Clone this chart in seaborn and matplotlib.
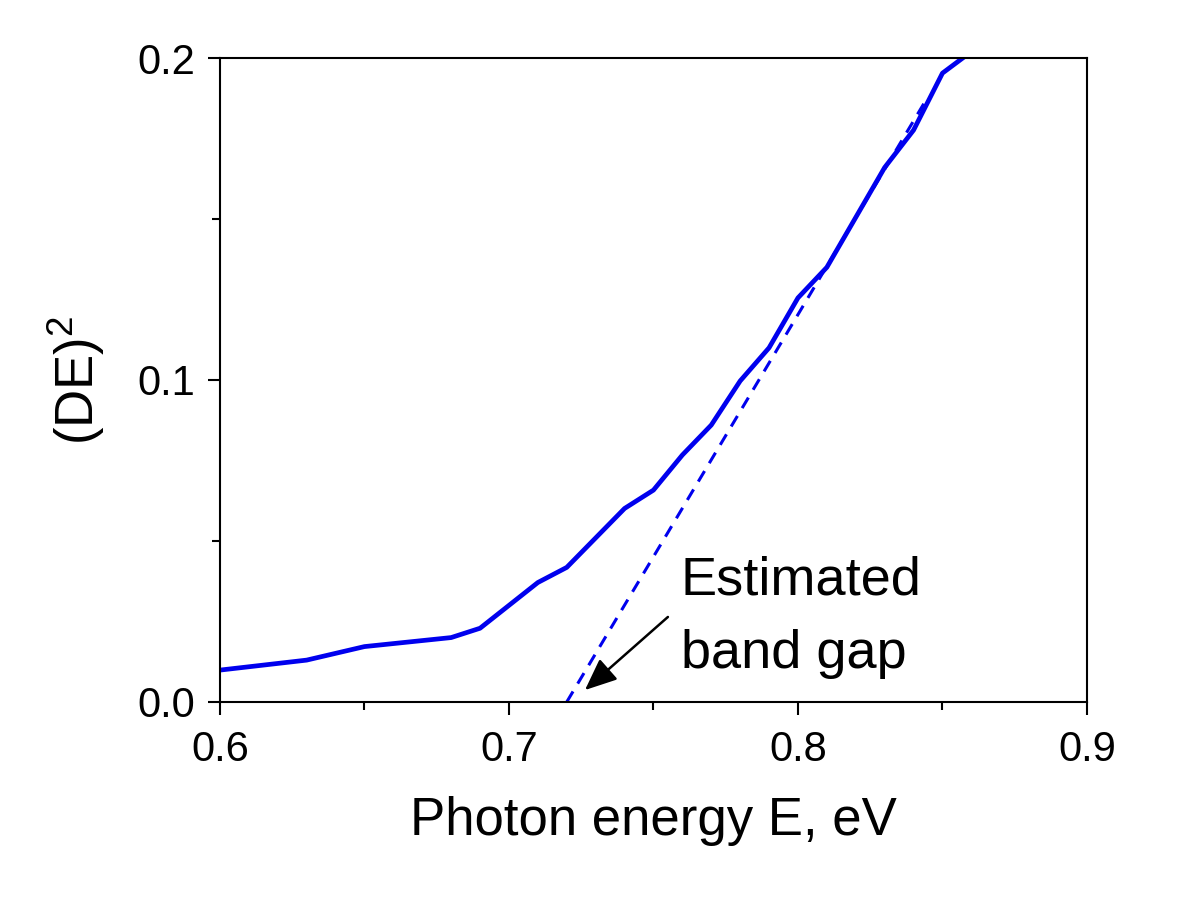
import numpy as np
import pandas as pd
import matplotlib
matplotlib.use("Agg")
import matplotlib.pyplot as plt
from matplotlib.ticker import MultipleLocator
import seaborn as sns

# curve
energy = [0.60, 0.63, 0.65, 0.68, 0.69, 0.71, 0.72, 0.74, 0.75, 0.76,
          0.77, 0.78, 0.79, 0.80, 0.81, 0.83, 0.84, 0.85, 0.86]
de_sq = [0.0099, 0.0130, 0.0172, 0.0200, 0.0229, 0.0371, 0.0418, 0.0601, 0.0658, 0.0767,
         0.0860, 0.0997, 0.1100, 0.1255, 0.1350, 0.1660, 0.1776, 0.1953, 0.2020]

# linear extrapolation (dashed)
fit_x = [0.72, 0.845]
fit_y = [0.0, 0.188]

x_ticks = [0.6, 0.7, 0.8, 0.9]
y_ticks = [0.0, 0.1, 0.2]

sns.set_style("ticks")
plt.rcParams['font.family'] = ['Liberation Sans', 'DejaVu Sans']
plt.rcParams['mathtext.default'] = 'regular'
plt.rcParams['text.color'] = 'black'
plt.rcParams['axes.labelcolor'] = 'black'
plt.rcParams['xtick.color'] = 'black'
plt.rcParams['ytick.color'] = 'black'
plt.rcParams['axes.linewidth'] = 1.5

df = pd.DataFrame({"E": energy, "DE2": de_sq})

fig = plt.figure(figsize=(12, 8.98), dpi=100)
ax = fig.add_axes([0.1833, 0.2183, 0.7225, 0.7171])

sns.lineplot(data=df, x="E", y="DE2", ax=ax, color="#0000ee", lw=3.4)
ax.plot(fit_x, fit_y, color="#0000ee", lw=2.2, dashes=(4.0, 3.0))

# arrow and label
ax.annotate("", xy=(0.7263, 0.0037), xytext=(0.755, 0.0264),
            arrowprops=dict(arrowstyle="-|>,head_length=0.7,head_width=0.3",
                            color="black", lw=1.8, mutation_scale=28,
                            shrinkA=0, shrinkB=0))
ax.text(0.7595, 0.0106, "Estimated\nband gap", fontsize=39, ha="left",
        va="baseline", linespacing=1.6)

ax.set_xlim(0.6, 0.9)
ax.set_ylim(0.0, 0.2)
ax.set_xticks(x_ticks)
ax.set_yticks(y_ticks)
ax.xaxis.set_minor_locator(MultipleLocator(0.05))
ax.yaxis.set_minor_locator(MultipleLocator(0.05))
ax.tick_params(which="major", length=9, width=1.5, labelsize=30)
ax.tick_params(which="minor", length=5.5, width=1.5)
ax.tick_params(axis="x", which="major", pad=11)
ax.tick_params(axis="y", which="major", pad=9)
ax.tick_params(top=False, right=False, which="both")

for s in ax.spines.values():
    s.set_color("black")
    s.set_linewidth(1.5)

ax.set_xlabel("Photon energy E, eV", fontsize=38, labelpad=19)
ax.set_ylabel("(DE)$^2$", fontsize=38, labelpad=22)

fig.savefig("out.png", dpi=100, facecolor="white")
